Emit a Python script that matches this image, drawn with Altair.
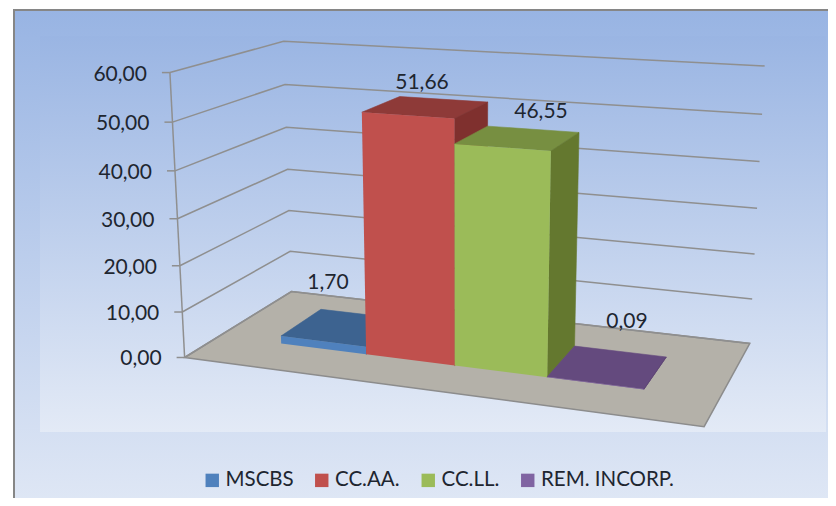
import numpy as np
import altair as alt

series = ["MSCBS", "CC.AA.", "CC.LL.", "REM. INCORP."]
values = [1.70, 51.66, 46.55, 0.09]
value_labels = ["1,70", "51,66", "46,55", "0,09"]
label_px = [(328, 283), (422, 83), (541, 112), (627, 322)]
front_colors = ["#4F81BD", "#C0504D", "#9BBB59", "#8064A2"]
top_colors = ["#3D6390", "#8E3A38", "#778F41", "#644A7E"]
side_colors = ["#3A5E8A", "#7F302E", "#64782F", "#5A4272"]
ticks = [0, 10, 20, 30, 40, 50, 60]
tick_labels = ["0,00", "10,00", "20,00", "30,00", "40,00", "50,00", "60,00"]

FONT = "Lato"
TEXT = "#1E2630"
GRID = "#8F8F8F"
FLOOR = "#B4B1A9"
W, H = 828, 498
U_MAX, V_F, V_B = 5.5, 0.3, 0.7
U0 = 0.75

# Camera fitted to landmarks of the picture: (u, v, z) -> pixel
anchors = [
    ((0, 0, 0), (185, 357)), ((0, 1, 0), (291, 291)), ((5.5, 1, 0), (750, 343)), ((5.5, 0, 0), (704, 427)),
    ((0, 0, 60), (170, 72)), ((0, 1, 60), (284, 41)), ((5.5, 1, 60), (765, 66)),
    ((1.75, .3, 51.66), (362, 112)), ((2.75, .3, 51.66), (454, 118)), ((1.75, .3, 0), (366, 355)),
    ((2.75, .3, 0), (455, 366)), ((3.75, .3, 46.55), (551, 151)), ((3.75, .3, 0), (547, 377)),
    ((3.75, .7, 46.55), (579, 133)), ((3.75, .7, 0), (575, 346)), ((2.75, .7, 46.55), (487, 127)),
    ((2.75, .7, 51.66), (487, 102)), ((1.75, .7, 51.66), (400, 97)), ((.75, .3, 1.7), (281, 336)),
    ((.75, .3, 0), (281, 344)), ((.75, .7, 1.7), (321, 310)), ((4.75, .7, 0), (666, 357)), ((4.75, .3, 0), (644, 389)),
]
A, b = [], []
for (u, v, z), (x, y) in anchors:
    A.append([u, v, z, 1, 0, 0, 0, 0, -x * u, -x * v, -x * z]); b.append(x)
    A.append([0, 0, 0, 0, u, v, z, 1, -y * u, -y * v, -y * z]); b.append(y)
p = np.linalg.lstsq(np.array(A, float), np.array(b, float), rcond=None)[0]


def proj(u, v, z):
    d = p[8] * u + p[9] * v + p[10] * z + 1
    return [float((p[0] * u + p[1] * v + p[2] * z + p[3]) / d), float((p[4] * u + p[5] * v + p[6] * z + p[7]) / d)]


def poly(corners, **props):
    ring = [proj(*c) for c in corners]
    ring.append(ring[0])
    return {"type": "Feature", "properties": props, "geometry": {"type": "Polygon", "coordinates": [ring]}}


geo = dict(type="identity", scale=1, translate=[-8, -8])
X = alt.X("x:Q", axis=None, scale=alt.Scale(domain=[8, W], nice=False, zero=False))
Y = alt.Y("y:Q", axis=None, scale=alt.Scale(domain=[H, 8], nice=False, zero=False))
X2 = alt.X2("x2:Q")
Y2 = alt.Y2("y2:Q")


def face(feature, fill, stroke=None):
    return alt.Chart(alt.Data(values=[feature])).mark_geoshape(
        fill=fill, stroke=stroke or fill, strokeWidth=0.6 if not stroke else 1.5
    ).project(**geo)


def grad(c0, c1):
    return alt.Gradient(gradient="linear", x1=0, y1=0, x2=0, y2=1,
                        stops=[alt.GradientStop(color=c0, offset=0), alt.GradientStop(color=c1, offset=1)])


outer = alt.Chart(alt.Data(values=[{"x": 14, "x2": W + 6, "y": 10, "y2": H + 6}])).mark_rect(
    color=grad("#98B4E3", "#DFE7F5"), stroke="#868686", strokeWidth=2, clip=True
).encode(x=X, x2=X2, y=Y, y2=Y2)
inner = alt.Chart(alt.Data(values=[{"x": 40, "x2": 826, "y": 36, "y2": 432}])).mark_rect(
    color=grad("#9AB5E3", "#E3EAF6")
).encode(x=X, x2=X2, y=Y, y2=Y2)

layers = [outer, inner]

# floor
layers.append(face(poly([(0, 0, 0), (0, 1, 0), (U_MAX, 1, 0), (U_MAX, 0, 0)]), FLOOR, "#8C8C8C"))

# axis line, tick marks and walls' gridlines
grid_rows = []
for t in ticks:
    for k, (u, v) in enumerate([(0, 0), (0, 1), (U_MAX, 1)]):
        px = proj(u, v, t)
        grid_rows.append({"x": px[0], "y": px[1], "g": f"grid{t}", "o": k})
    px = proj(0, 0, t)
    grid_rows.append({"x": px[0] - 8, "y": px[1], "g": f"tick{t}", "o": 0})
    grid_rows.append({"x": px[0], "y": px[1], "g": f"tick{t}", "o": 1})
for k, t in enumerate((0, 60)):
    px = proj(0, 0, t)
    grid_rows.append({"x": px[0], "y": px[1], "g": "axis", "o": k})
layers.append(
    alt.Chart(alt.Data(values=grid_rows)).mark_line(color=GRID, strokeWidth=1.5).encode(
        x=X, y=Y, detail="g:N", order="o:Q"
    )
)

# bars
color_scale = alt.Scale(domain=series, range=front_colors)
legend = alt.Legend(
    title=None, orient="none", legendX=194, legendY=462, direction="horizontal", columns=4,
    symbolType="square", symbolSize=180, symbolStrokeWidth=0, columnPadding=17.5, labelOffset=3,
    labelFont=FONT, labelFontSize=20.5, labelColor=TEXT, rowPadding=0,
)
for i in range(4):
    u0, u1, z = U0 + i, U0 + i + 1, values[i]
    layers.append(face(poly([(u0, V_F, z), (u0, V_B, z), (u1, V_B, z), (u1, V_F, z)]), top_colors[i]))
    layers.append(face(poly([(u1, V_F, 0), (u1, V_F, z), (u1, V_B, z), (u1, V_B, 0)]), side_colors[i]))
    front = poly([(u0, V_F, 0), (u0, V_F, z), (u1, V_F, z), (u1, V_F, 0)], series=series[i])
    layers.append(
        alt.Chart(alt.Data(values=[front])).mark_geoshape(strokeWidth=0).project(**geo).encode(
            fill=alt.Fill("properties.series:N", scale=color_scale, legend=legend)
        )
    )

# tick labels
tick_rows = []
for t, lab in zip(ticks, tick_labels):
    px = proj(0, 0, t)
    tick_rows.append({"x": px[0] - 23, "y": px[1] + 2, "t": lab})
layers.append(
    alt.Chart(alt.Data(values=tick_rows)).mark_text(
        font=FONT, fontSize=21, color=TEXT, align="right", baseline="middle"
    ).encode(x=X, y=Y, text="t:N")
)

# value labels
val_rows = [{"x": a[0], "y": a[1], "t": s} for a, s in zip(label_px, value_labels)]
layers.append(
    alt.Chart(alt.Data(values=val_rows)).mark_text(
        font=FONT, fontSize=21, color=TEXT, align="center", baseline="middle"
    ).encode(x=X, y=Y, text="t:N")
)

chart = alt.layer(*layers).properties(
    width=W - 8, height=H - 8, padding=0, background="white",
    autosize=alt.AutoSizeParams(type="none"),
).resolve_scale(x="shared", y="shared").configure_view(stroke=None)

chart.save("out.html", embed_options={"renderer": "svg", "actions": False})
